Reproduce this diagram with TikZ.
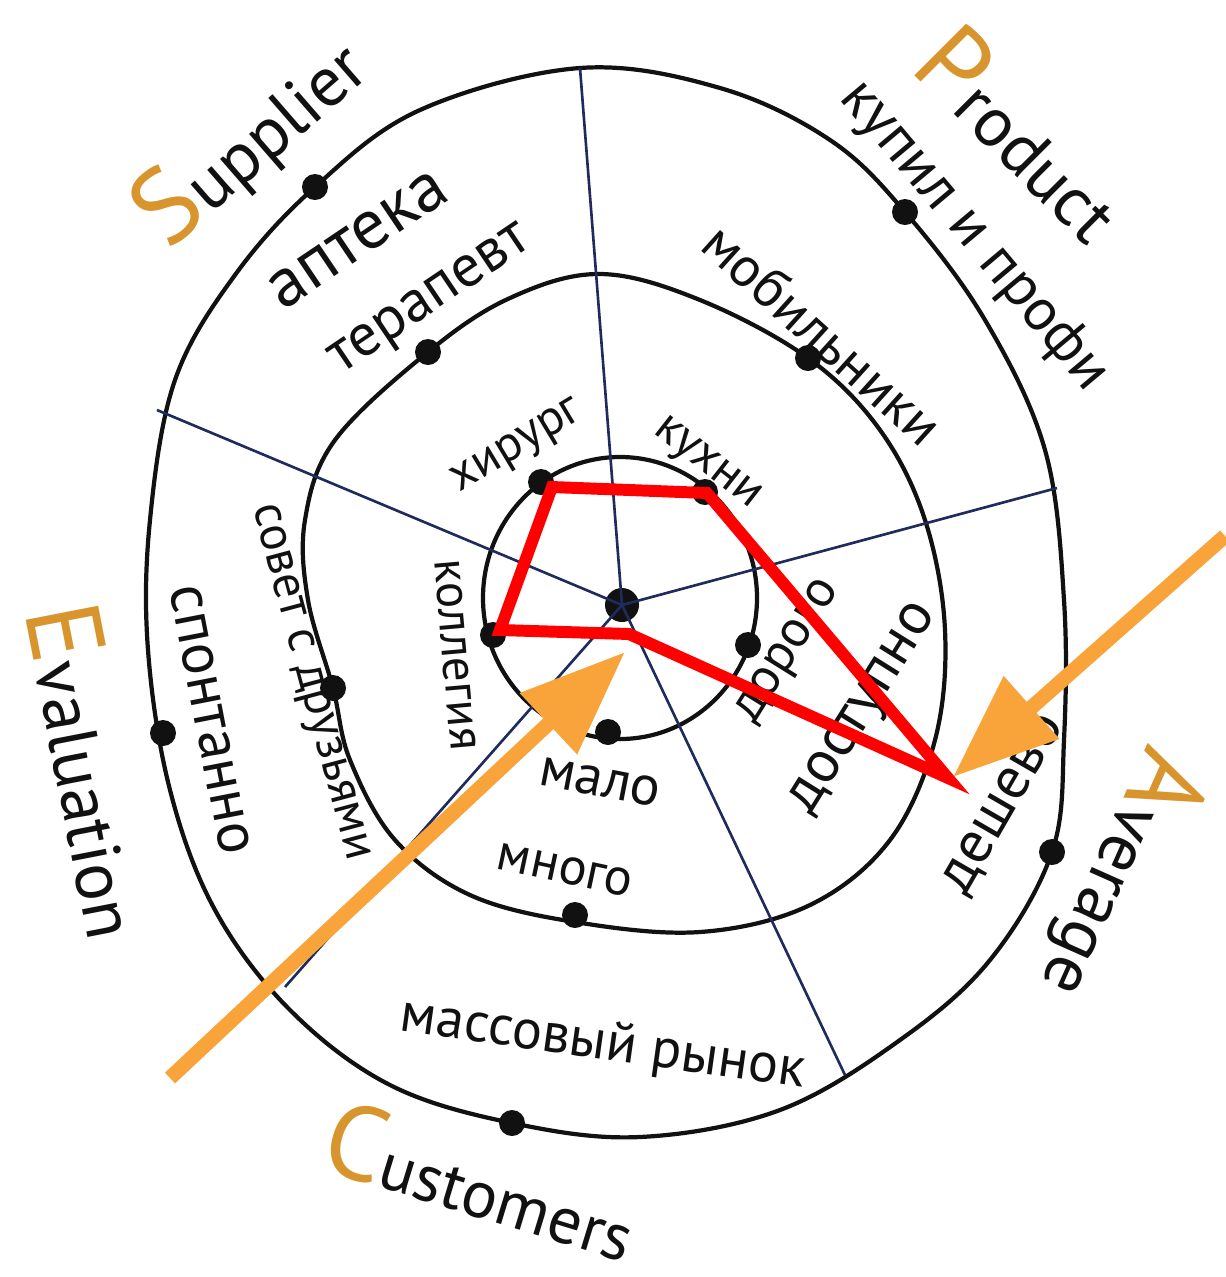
\documentclass[tikz,border=0pt]{standalone}
\usepackage{fontspec}
\setmainfont{PT Sans}
\usetikzlibrary{arrows.meta,positioning,calc}
\definecolor{ink}{HTML}{111111}
\definecolor{spoke}{HTML}{1E2B5C}
\definecolor{mark}{HTML}{FF0000}
\definecolor{ochre}{HTML}{F8A43B}
\definecolor{initial}{HTML}{D8952E}
\tikzset{
  ring/.style={draw=ink, line width=1.2pt},
  spokeline/.style={draw=spoke, line width=0.75pt},
  dot/.style={circle, fill=ink, inner sep=0pt, minimum size=2.6mm},
  hand/.style={text=ink, inner sep=0pt},
  textsize/.style={font=\fontsize{#1}{#1}\selectfont},
  axislabel/.style={text=ink, inner sep=0pt, font=\fontsize{20}{22}\selectfont},
  pointer/.style={draw=ochre, line width=4.2pt, -{Triangle[length=10.5mm,width=8mm]}},
  profile/.style={draw=mark, line width=3.4pt, line join=miter}
}
\newcommand{\firstletter}[1]{{\color{initial}\fontsize{30}{30}\selectfont #1}}

\begin{document}
\begin{tikzpicture}[x=0.1mm,y=-0.1mm]
  \useasboundingbox (0,0) rectangle (1225,1277);

  % rings
  \draw[ring] plot[smooth cycle, tension=0.6] coordinates {
    (580,68) (720,88) (830,140) (905,212) (985,320) (1045,450) (1064,600)
    (1064,740) (1052,852) (990,960) (900,1040) (780,1110) (640,1137)
    (512,1123) (390,1085) (290,1010) (215,910) (170,790) (148,650)
    (150,520) (175,380) (235,275) (315,187) (420,110)};
  \draw[ring] plot[smooth cycle, tension=0.6] coordinates {
    (600,274) (700,300) (808,358) (880,430) (925,520) (945,630) (935,740)
    (890,840) (810,905) (700,932) (575,922) (470,895) (395,840) (350,760)
    (333,688) (308,600) (305,520) (335,440) (428,352) (510,298)};
  \draw[ring] (620,598) ellipse [x radius=137, y radius=141];

  % spokes
  \node[dot, minimum size=3.4mm] (hub) at (622,605) {};
  \coordinate (rim-n) at (580,68);
  \coordinate (rim-nw) at (157,410);
  \coordinate (rim-e) at (1057,488);
  \coordinate (rim-sw) at (285,987);
  \coordinate (rim-se) at (845,1075);
  \foreach \e in {rim-n,rim-nw,rim-e,rim-sw,rim-se} {
    \draw[spokeline] (hub.center) -- (\e);
  }

  % dots on the rings
  \foreach \n/\x/\y in {apteka/315/187, profi/905/212, spontanno/163/733,
                        deshevo/1052/852, rynok/512/1123,
                        terapevt/428/352, mobil/808/358, druzya/333/688,
                        mnogo/575/915,
                        hirurg/541/482, kuhni/705/492, kollegi/493/635,
                        dorogo/748/645, malo/608/732} {
    \node[dot] (d-\n) at (\x,\y) {};
  }

  % axis names
  \node[axislabel, rotate=41] (supplier) at (250,140) {\firstletter{S}upplier};
  \node[axislabel, rotate=-45] (product) at (1024,132) {\firstletter{P}roduct};
  \node[axislabel, rotate=-79] (evaluation) at (92,770) {\firstletter{E}valuation};
  \node[axislabel, rotate=-114] (average) at (1122,875) {\firstletter{A}verage};
  \node[axislabel, rotate=-17, font=\fontsize{19}{21}\selectfont] (customers) at (482,1180) {\firstletter{C}ustomers};

  % ring texts
  \node[hand, textsize=20, rotate=34] (t-apteka) at (358,240) {аптека};
  \node[hand, textsize=17, rotate=34] (t-terapevt) at (432,302) {терапевт};
  \node[hand, textsize=17, rotate=-50] (t-profi) at (974,236) {купил и профи};
  \node[hand, textsize=16, rotate=-42] (t-mobil) at (823,334) {мобильники};
  \node[hand, textsize=14, rotate=31] (t-hirurg) at (518,448) {хирург};
  \node[hand, textsize=14, rotate=-38] (t-kuhni) at (706,465) {кухни};
  \node[hand, textsize=14, rotate=-85] (t-kollegi) at (455,655) {коллегия};
  \node[hand, textsize=15, rotate=58] (t-dorogo) at (790,652) {дорого};
  \node[hand, textsize=17, rotate=58] (t-dostupno) at (866,710) {доступно};
  \node[hand, textsize=17, rotate=60] (t-deshevo) at (1005,805) {дешево};
  \node[hand, textsize=16, rotate=-11] (t-malo) at (600,782) {мало};
  \node[hand, textsize=15, rotate=-12] (t-mnogo) at (565,870) {много};
  \node[hand, textsize=16, rotate=-8] (t-rynok) at (603,1045) {массовый рынок};
  \node[hand, textsize=14, rotate=-75] (t-druzya) at (308,683) {совет с друзьями};
  \node[hand, textsize=17, rotate=-79] (t-spontanno) at (210,720) {спонтанно};

  % red profile
  \coordinate (p-hirurg) at (552,487);
  \coordinate (p-kuhni) at (707,493);
  \coordinate (p-average) at (948,778);
  \coordinate (p-hub) at (629,634);
  \coordinate (p-kollegi) at (500,630);
  \draw[profile] (p-hirurg) -- (p-kuhni) -- (p-average) -- (p-hub) -- (p-kollegi) -- cycle;

  % orange pointers
  \coordinate (tail-left) at (170,1078);
  \coordinate (head-left) at (625,652);
  \coordinate (tail-right) at (1225,536);
  \coordinate (head-right) at (953,777);
  \draw[pointer] (tail-left) -- (head-left);
  \draw[pointer] (tail-right) -- (head-right);
\end{tikzpicture}
\end{document}
